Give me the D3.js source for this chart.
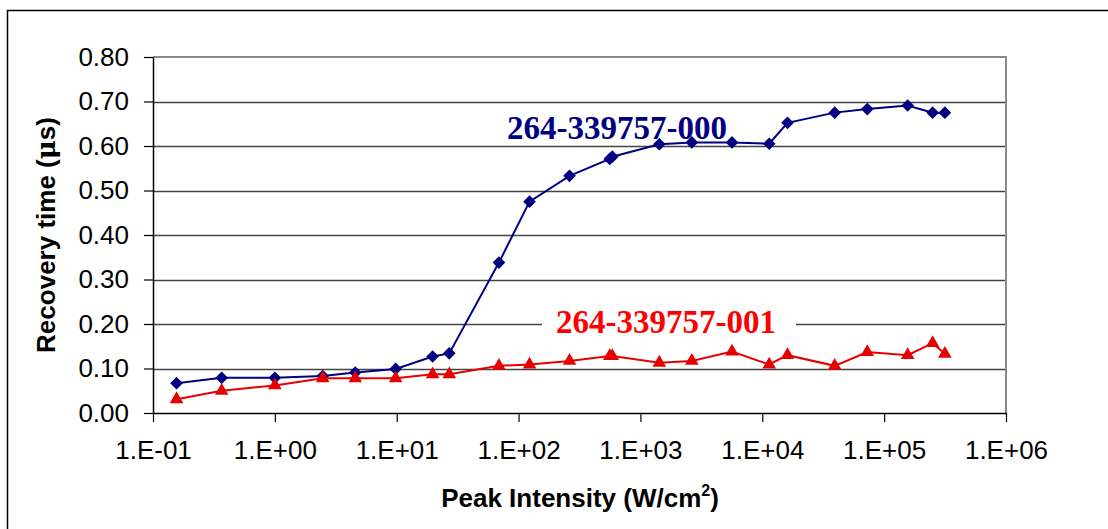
<!DOCTYPE html>
<meta charset="utf-8">
<style>
  body { margin: 0; background: #fff; }
  text { font-family: Arial, "Liberation Sans", sans-serif; }
</style>
<body>
<svg width="1108" height="529"></svg>
<script src="https://d3js.org/d3.v7.min.js"></script>
<script>

// peak intensity (W/cm2), shared by both parts
var intensity = [0.156, 0.366, 1.0, 2.47, 4.57, 9.8, 19.7, 27, 69, 123, 262, 560, 588,
  1430, 2640, 5640, 11400, 16100, 39300, 72700, 156000, 250000, 315000];

// recovery time (us)
var part000 = [0.067, 0.079, 0.079, 0.083, 0.091, 0.099, 0.127, 0.134, 0.338, 0.475, 0.533, 0.571, 0.576,
  0.604, 0.608, 0.608, 0.605, 0.652, 0.675, 0.683, 0.691, 0.675, 0.675];
var part001 = [0.031, 0.050, 0.062, 0.078, 0.078, 0.078, 0.087, 0.087, 0.106, 0.109, 0.117, 0.128, 0.128,
  0.113, 0.117, 0.138, 0.109, 0.130, 0.106, 0.137, 0.130, 0.157, 0.133];

var xTicks = [1e-1, 1e0, 1e1, 1e2, 1e3, 1e4, 1e5, 1e6];
var yTicks = [0, 0.1, 0.2, 0.3, 0.4, 0.5, 0.6, 0.7, 0.8];

var svg = d3.select('svg');

// outer chart frame (runs off the right and bottom of the picture)
svg.append('rect')
  .attr('x', 7.5).attr('y', 10.5)
  .attr('width', 1120).attr('height', 540)
  .attr('fill', 'none')
  .attr('stroke', '#000')
  .attr('stroke-width', 1.5);

var x = d3.scaleLog().domain([1e-1, 1e6]).range([153, 1006]);
var y = d3.scaleLinear().domain([0, 0.8]).range([413, 57]);

// gridlines
svg.append('g')
  .selectAll('line')
  .data(yTicks.slice(1, 8))
  .join('line')
  .attr('x1', x(1e-1)).attr('x2', x(1e6))
  .attr('y1', d => Math.round(y(d)) + 0.5).attr('y2', d => Math.round(y(d)) + 0.5)
  .attr('stroke', '#444')
  .attr('stroke-width', 1.3);

// plot area border (top and right)
svg.append('path')
  .attr('d', 'M' + x(1e-1) + ',' + y(0.8) + 'H' + x(1e6) + 'V' + y(0))
  .attr('fill', 'none')
  .attr('stroke', '#8a8a8a')
  .attr('stroke-width', 2);

function fmtExp(d) {
  var e = Math.round(Math.log10(d));
  return '1.E' + (e < 0 ? '-' : '+') + String(Math.abs(e)).padStart(2, '0');
}

var xAxis = svg.append('g')
  .attr('transform', 'translate(0,' + y(0) + ')')
  .call(d3.axisBottom(x).tickValues(xTicks).tickFormat(fmtExp).tickSize(9).tickSizeOuter(0).tickPadding(19));

var yAxis = svg.append('g')
  .attr('transform', 'translate(' + x(1e-1) + ',0)')
  .call(d3.axisLeft(y).tickValues(yTicks).tickFormat(d3.format('.2f')).tickSize(9).tickSizeOuter(0).tickPadding(15));

[xAxis, yAxis].forEach(function (a) {
  a.select('.domain').attr('stroke', '#000').attr('stroke-width', 1.5);
  a.selectAll('.tick line').attr('stroke', '#000').attr('stroke-width', 1.2);
  a.selectAll('.tick text')
    .attr('fill', '#000')
    .style('font-family', 'Arial, "Liberation Sans", sans-serif')
    .style('font-size', '26px');
});

// axis titles
var xt = svg.append('text')
  .attr('x', 580).attr('y', 507)
  .attr('text-anchor', 'middle')
  .style('font-size', '26px').style('font-weight', 'bold')
  .text('Peak Intensity (W/cm');
xt.append('tspan').attr('dy', -11).style('font-size', '16px').text('2');
xt.append('tspan').attr('dy', 11).text(')');

var yt = svg.append('text')
  .attr('transform', 'translate(55,' + ((y(0) + y(0.8)) / 2) + ') rotate(-90)')
  .attr('text-anchor', 'middle')
  .style('font-size', '26px').style('font-weight', 'bold')
  .text('Recovery time (');
yt.append('tspan').style('font-family', '"DejaVu Serif", serif').text('\u03bc');
yt.append('tspan').text('s)');

var line = d3.line()
  .x(function (d, i) { return x(intensity[i]); })
  .y(function (d) { return y(d); });

// series 000 : navy diamonds
svg.append('path')
  .attr('d', line(part000))
  .attr('fill', 'none')
  .attr('stroke', '#000080')
  .attr('stroke-width', 2);

svg.append('g')
  .selectAll('path')
  .data(part000)
  .join('path')
  .attr('d', d3.symbol().type(d3.symbolSquare).size(80))
  .attr('transform', function (d, i) { return 'translate(' + x(intensity[i]) + ',' + y(d) + ') rotate(45)'; })
  .attr('fill', '#000080');

// series 001 : red triangles
svg.append('path')
  .attr('d', line(part001))
  .attr('fill', 'none')
  .attr('stroke', '#e60000')
  .attr('stroke-width', 2);

svg.append('g')
  .selectAll('path')
  .data(part001)
  .join('path')
  .attr('d', d3.symbol().type(d3.symbolTriangle).size(80))
  .attr('transform', function (d, i) { return 'translate(' + x(intensity[i]) + ',' + y(d) + ')'; })
  .attr('fill', '#e60000');

// series labels
svg.append('text')
  .attr('x', 617).attr('y', 139)
  .attr('text-anchor', 'middle')
  .style('font-family', '"Liberation Serif", "Times New Roman", serif')
  .style('font-weight', 'bold').style('font-size', '33px')
  .attr('fill', '#000080')
  .text('264-339757-000');

svg.append('rect')
  .attr('x', 542).attr('y', 305)
  .attr('width', 254).attr('height', 36)
  .attr('fill', '#fff');

svg.append('text')
  .attr('x', 666).attr('y', 333)
  .attr('text-anchor', 'middle')
  .style('font-family', '"Liberation Serif", "Times New Roman", serif')
  .style('font-weight', 'bold').style('font-size', '33px')
  .attr('fill', '#ff0000')
  .text('264-339757-001');

</script>
